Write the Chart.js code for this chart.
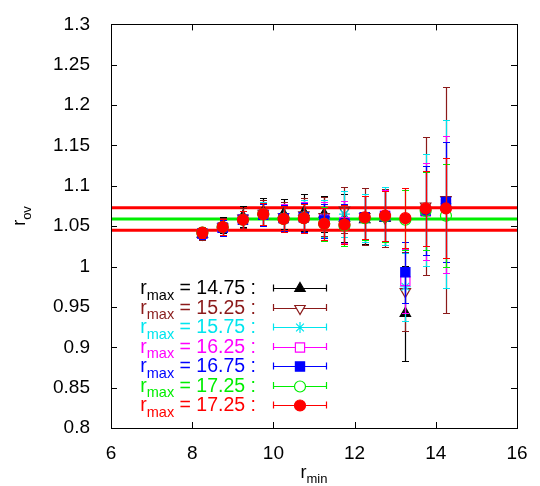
<!DOCTYPE html>
<html>
<head>
<meta charset="utf-8">
<script src="https://cdn.jsdelivr.net/npm/chart.js@4"></script>
<style>
  body { margin: 0; background: #fff; }
  #wrap { width: 540px; height: 486px; }
</style>
</head>
<body>
<div id="wrap"><canvas id="fitChart"></canvas></div>
<script>
const rMin = [8.25, 8.75, 9.25, 9.75, 10.25, 10.75, 11.25, 11.75, 12.25, 12.75, 13.25, 13.75, 14.25];

// r_max = 14.75 stops at r_min = 13.25
const y1475 = [1.040, 1.052, 1.062, 1.068, 1.065, 1.067, 1.065, 1.060, 1.058, 1.060, 0.942];
const e1475 = [0.006, 0.010, 0.013, 0.017, 0.019, 0.023, 0.022, 0.030, 0.030, 0.033, 0.059];
const y1525 = [1.040, 1.049, 1.060, 1.066, 1.062, 1.064, 1.062, 1.070, 1.062, 1.060, 0.969, 1.075, 1.083];
const e1525 = [0.007, 0.011, 0.012, 0.016, 0.018, 0.021, 0.024, 0.028, 0.035, 0.036, 0.049, 0.085, 0.140];
const y1575 = [1.041, 1.048, 1.058, 1.065, 1.061, 1.062, 1.060, 1.065, 1.060, 1.063, 0.975, 1.070, 1.078];
const e1575 = [0.007, 0.010, 0.011, 0.015, 0.017, 0.020, 0.023, 0.028, 0.030, 0.036, 0.042, 0.069, 0.104];
const y1625 = [1.041, 1.048, 1.058, 1.064, 1.060, 1.061, 1.058, 1.055, 1.061, 1.063, 0.982, 1.068, 1.077];
const e1625 = [0.007, 0.010, 0.011, 0.014, 0.017, 0.019, 0.022, 0.026, 0.027, 0.032, 0.040, 0.060, 0.085];
const y1675 = [1.041, 1.048, 1.058, 1.064, 1.060, 1.061, 1.057, 1.053, 1.061, 1.062, 0.993, 1.069, 1.080];
const e1675 = [0.007, 0.010, 0.011, 0.014, 0.016, 0.018, 0.021, 0.025, 0.027, 0.031, 0.038, 0.055, 0.074];
const y1725a = [1.042, 1.049, 1.058, 1.065, 1.059, 1.060, 1.053, 1.051, 1.060, 1.062, 1.058, 1.069, 1.063];
const e1725a = [0.007, 0.010, 0.011, 0.014, 0.016, 0.018, 0.021, 0.025, 0.027, 0.032, 0.037, 0.048, 0.064];
const y1725b = [1.042, 1.049, 1.058, 1.065, 1.059, 1.060, 1.053, 1.052, 1.061, 1.063, 1.060, 1.072, 1.072];
const e1725b = [0.006, 0.010, 0.011, 0.014, 0.016, 0.018, 0.020, 0.024, 0.027, 0.031, 0.037, 0.047, 0.062];

const rMaxLabels = ['14.75', '15.25', '15.75', '16.25', '16.75', '17.25', '17.25'];

// fitted band: central value and its error band
const fitCentral = 1.059;
const fitLow = 1.045;
const fitHigh = 1.073;

const FONT = '"Liberation Sans", Arial, Helvetica, sans-serif';

const series = [
  { y: y1475, e: e1475, color: '#000000', style: 'triangle', rot: 0, filled: true, radius: 6 },
  { y: y1525, e: e1525, color: '#8b1a1a', style: 'triangle', rot: 180, filled: false, radius: 6 },
  { y: y1575, e: e1575, color: '#00e5ee', style: 'star', rot: 0, filled: false, radius: 5.5 },
  { y: y1625, e: e1625, color: '#ff00ff', style: 'rect', rot: 0, filled: false, radius: 6.5 },
  { y: y1675, e: e1675, color: '#0000ff', style: 'rect', rot: 0, filled: true, radius: 6.5 },
  { y: y1725a, e: e1725a, color: '#00ee00', style: 'circle', rot: 0, filled: false, radius: 5.5 },
  { y: y1725b, e: e1725b, color: '#ff0000', style: 'circle', rot: 0, filled: true, radius: 5.5 }
];

function hline(value, color) {
  return {
    type: 'line',
    data: [{ x: 6, y: value }, { x: 16, y: value }],
    borderColor: color,
    borderWidth: 3,
    pointRadius: 0,
    showLine: true,
    order: 20
  };
}

const datasets = [
  hline(fitHigh, '#ff0000'),
  hline(fitLow, '#ff0000'),
  hline(fitCentral, '#00ee00')
];

series.forEach((s, k) => {
  datasets.push({
    type: 'scatter',
    label: 'rmax = ' + rMaxLabels[k],
    data: s.y.map((v, i) => ({ x: rMin[i], y: v })),
    errors: s.e,
    borderColor: s.color,
    backgroundColor: s.filled ? s.color : 'rgba(0,0,0,0)',
    pointStyle: s.style,
    rotation: s.rot,
    pointRadius: s.radius,
    pointBorderWidth: 1.2,
    order: 10 - k
  });
});

const errorBars = {
  id: 'errorBars',
  beforeDatasetDraw(chart, args) {
    const ds = chart.data.datasets[args.index];
    if (!ds.errors) return;
    const { ctx } = chart;
    const { x, y } = chart.scales;
    ctx.save();
    ctx.strokeStyle = ds.borderColor;
    ctx.lineWidth = 1.2;
    ctx.beginPath();
    ds.data.forEach((p, i) => {
      const px = Math.round(x.getPixelForValue(p.x)) + 0.5;
      const lo = Math.round(y.getPixelForValue(p.y - ds.errors[i])) + 0.5;
      const hi = Math.round(y.getPixelForValue(p.y + ds.errors[i])) + 0.5;
      ctx.moveTo(px, lo); ctx.lineTo(px, hi);
      ctx.moveTo(px - 3.5, lo); ctx.lineTo(px + 3.5, lo);
      ctx.moveTo(px - 3.5, hi); ctx.lineTo(px + 3.5, hi);
    });
    ctx.stroke();
    ctx.restore();
  }
};

// base + subscript + rest, right aligned at xr
function subText(ctx, base, sub, rest, xr, yb, size, subSize) {
  const big = size + 'px ' + FONT;
  const small = subSize + 'px ' + FONT;
  ctx.font = big;
  const wRest = ctx.measureText(rest).width;
  const wBase = ctx.measureText(base).width;
  ctx.font = small;
  const wSub = ctx.measureText(sub).width;
  const x0 = xr - wRest - wSub - wBase;
  ctx.textAlign = 'left';
  ctx.textBaseline = 'alphabetic';
  ctx.font = big;
  ctx.fillText(base, x0, yb);
  ctx.font = small;
  ctx.fillText(sub, x0 + wBase, yb + 5.5);
  ctx.font = big;
  ctx.fillText(rest, x0 + wBase + wSub, yb);
  return wBase + wSub + wRest;
}

function widthOf(ctx, text, size) {
  ctx.font = size + 'px ' + FONT;
  return ctx.measureText(text).width;
}

const frameAndText = {
  id: 'frameAndText',
  afterDraw(chart) {
    const { ctx, chartArea: a } = chart;
    const { x, y } = chart.scales;
    ctx.save();
    ctx.strokeStyle = '#000';
    ctx.lineWidth = 1;
    ctx.strokeRect(Math.round(a.left) + 0.5, Math.round(a.top) + 0.5,
      Math.round(a.right - a.left), Math.round(a.bottom - a.top));
    ctx.beginPath();
    y.ticks.forEach(t => {
      const py = Math.round(y.getPixelForValue(t.value)) + 0.5;
      ctx.moveTo(a.left, py); ctx.lineTo(a.left + 6, py);
      ctx.moveTo(a.right, py); ctx.lineTo(a.right - 6, py);
    });
    x.ticks.forEach(t => {
      const px = Math.round(x.getPixelForValue(t.value)) + 0.5;
      ctx.moveTo(px, a.bottom); ctx.lineTo(px, a.bottom - 6);
      ctx.moveTo(px, a.top); ctx.lineTo(px, a.top + 6);
    });
    ctx.stroke();

    // axis titles
    ctx.fillStyle = '#000';
    const wMin = widthOf(ctx, 'r', 18) + widthOf(ctx, 'min', 13);
    subText(ctx, 'r', 'min', '', (a.left + a.right) / 2 + wMin / 2, 477.5, 18, 13);

    ctx.save();
    ctx.translate(25, 216);
    ctx.rotate(-Math.PI / 2);
    const wOv = widthOf(ctx, 'r', 18) + widthOf(ctx, 'ov', 13);
    subText(ctx, 'r', 'ov', '', wOv / 2, 0, 18, 13);
    ctx.restore();

    // legend
    const xr = 256, lx0 = 273, lx1 = 327, lxm = 300;
    series.forEach((s, k) => {
      const ly = 288 + k * 19.5;
      ctx.fillStyle = s.color;
      subText(ctx, 'r', 'max', ' = ' + rMaxLabels[k] + ' :', xr, ly + 6, 19.5, 14.5);
      ctx.strokeStyle = s.color;
      ctx.lineWidth = 1.2;
      ctx.beginPath();
      ctx.moveTo(lx0, Math.round(ly) + 0.5); ctx.lineTo(lx1, Math.round(ly) + 0.5);
      ctx.moveTo(lx0 + 0.5, ly - 3.5); ctx.lineTo(lx0 + 0.5, ly + 3.5);
      ctx.moveTo(lx1 - 0.5, ly - 3.5); ctx.lineTo(lx1 - 0.5, ly + 3.5);
      ctx.stroke();
      ctx.fillStyle = s.filled ? s.color : '#ffffff';
      Chart.helpers.drawPoint(ctx, {
        pointStyle: s.style, radius: s.radius, rotation: s.rot, borderWidth: 1.2
      }, lxm, Math.round(ly) + 0.5);
    });
    ctx.restore();
  }
};

new Chart(document.getElementById('fitChart'), {
  data: { datasets },
  options: {
    responsive: true,
    maintainAspectRatio: false,
    animation: false,
    events: [],
    layout: { padding: { top: 20, right: 23, left: 0, bottom: 0 } },
    plugins: { legend: { display: false }, tooltip: { enabled: false } },
    scales: {
      x: {
        type: 'linear',
        min: 6, max: 16,
        grid: { display: false },
        border: { display: false },
        ticks: { stepSize: 2, padding: 6, color: '#000', font: { family: FONT, size: 19 } },
        afterFit(scale) { scale.height = 58; }
      },
      y: {
        type: 'linear',
        min: 0.8, max: 1.3,
        grid: { display: false },
        border: { display: false },
        ticks: {
          stepSize: 0.05, padding: 13, color: '#000', font: { family: FONT, size: 19 },
          callback: v => String(parseFloat(v.toFixed(2)))
        },
        afterFit(scale) { scale.width = 111; }
      }
    }
  },
  plugins: [errorBars, frameAndText]
});
</script>
</body>
</html>
